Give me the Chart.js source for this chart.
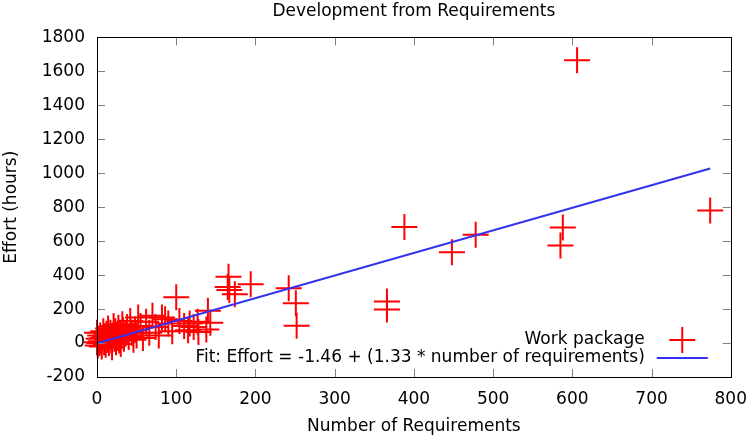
<!DOCTYPE html>
<html lang="en">
<head>
  <meta charset="UTF-8">
  <title>Development from Requirements</title>
  <style>
    body { margin: 0; padding: 0; background: #fff; }
    #wrap { width: 751px; height: 437px; }
    canvas { display: block; }
  </style>
  <script src="https://cdn.jsdelivr.net/npm/chart.js"></script>
</head>
<body>
  <div id="wrap"><canvas id="chartCanvas" width="751" height="437"></canvas></div>

  <script>
    // work packages: number of requirements vs effort (hours)
    const reqCount = [
      0, 0, 1, 2, 3, 4, 5, 6, 7, 8, 9, 10, 11, 12, 13, 14, 15, 16, 17, 18,
      19, 20, 21, 22, 23, 24, 25, 26, 27, 28, 29, 30, 31, 32, 33, 34, 36, 38, 40, 42,
      44, 46, 48, 50, 52, 55, 58, 62, 66, 70, 74, 78, 82, 86, 90, 95, 100, 104, 110, 115,
      117, 122, 127, 128, 138, 140, 143,
      166, 165, 167, 174, 194, 242, 251, 252, 366, 366, 388, 448, 478, 588, 585, 606, 774
    ];
    const effortHours = [
      5, 60, -15, 25, 0, 45, 10, -20, 30, 70, 5, 40, -10, 55, 20, 85, 0, 35, 60, 15,
      -25, 45, 100, 25, 70, 5, 50, 30, 90, 15, 60, -5, 40, 110, 75, 25, 55, 95, 35, 130,
      60, 20, 80, 45, 150, 100, 30, 125, 60, 160, 95, 45, 150, 140, 115, 70, 270, 130, 100, 75,
      115, 95, 125, 65, 80, 190, 120,
      390, 330, 313, 287, 346, 323, 234, 102, 244, 198, 684, 534, 638, 680, 575, 1665, 780
    ];
    // least-squares fit endpoints (from the legend: -1.46 + 1.33 * x)
    const fitX = [0, 774];
    const fitY = [-1.46, 1028];

    const xTicks = [0, 100, 200, 300, 400, 500, 600, 700, 800];
    const yTicks = [-200, 0, 200, 400, 600, 800, 1000, 1200, 1400, 1600, 1800];

    const FONT = "'DejaVu Sans', sans-serif";
    const FS = 17;
    const RED = '#ff0000';
    const BLUE = '#3232f0';

    // gnuplot-ish frame with inward ticks on all four sides
    const framePlugin = {
      id: 'frame',
      afterDraw(chart) {
        const { ctx, chartArea: a, scales } = chart;
        const len = 8;
        ctx.save();
        ctx.strokeStyle = '#808080';
        ctx.lineWidth = 1;
        ctx.beginPath();
        xTicks.forEach(v => {
          const px = Math.round(scales.x.getPixelForValue(v)) + 0.5;
          ctx.moveTo(px, a.bottom); ctx.lineTo(px, a.bottom - len);
          ctx.moveTo(px, a.top); ctx.lineTo(px, a.top + len);
        });
        yTicks.forEach(v => {
          const py = Math.round(scales.y.getPixelForValue(v)) + 0.5;
          ctx.moveTo(a.left, py); ctx.lineTo(a.left + len, py);
          ctx.moveTo(a.right, py); ctx.lineTo(a.right - len, py);
        });
        ctx.stroke();
        ctx.strokeStyle = '#000';
        ctx.strokeRect(Math.round(a.left) + 0.5, Math.round(a.top) + 0.5,
                       Math.round(a.right - a.left), Math.round(a.bottom - a.top));
        ctx.restore();
      }
    };

    // key drawn inside the plot, bottom right
    const keyPlugin = {
      id: 'key',
      afterDraw(chart) {
        const { ctx, chartArea: a } = chart;
        const textRight = a.right - 86;
        const sampleL = a.right - 74, sampleR = a.right - 23;
        const sampleC = (sampleL + sampleR) / 2;
        const row1 = a.bottom - 37, row2 = a.bottom - 19;
        ctx.save();
        ctx.font = FS + 'px ' + FONT;
        ctx.fillStyle = '#000';
        ctx.textAlign = 'right';
        ctx.textBaseline = 'middle';
        ctx.fillText('Work package', textRight, row1);
        ctx.fillText('Fit: Effort = -1.46 + (1.33 * number of requirements)', textRight, row2);
        ctx.strokeStyle = RED;
        ctx.lineWidth = 2;
        ctx.beginPath();
        ctx.moveTo(sampleC - 13, row1); ctx.lineTo(sampleC + 13, row1);
        ctx.moveTo(sampleC, row1 - 13); ctx.lineTo(sampleC, row1 + 13);
        ctx.stroke();
        ctx.strokeStyle = BLUE;
        ctx.lineWidth = 2;
        ctx.beginPath();
        ctx.moveTo(sampleL, row2); ctx.lineTo(sampleR, row2);
        ctx.stroke();
        ctx.restore();
      }
    };

    const ctx = document.getElementById('chartCanvas').getContext('2d');
    new Chart(ctx, {
      type: 'scatter',
      data: {
        datasets: [
          {
            label: 'Work package',
            data: reqCount.map((x, i) => ({ x, y: effortHours[i] })),
            pointStyle: 'cross',
            pointRadius: 13,
            pointHoverRadius: 13,
            borderColor: RED,
            backgroundColor: RED,
            borderWidth: 2,
            clip: false,
            order: 2
          },
          {
            label: 'Fit',
            type: 'line',
            data: fitX.map((x, i) => ({ x, y: fitY[i] })),
            borderColor: BLUE,
            borderWidth: 2,
            pointRadius: 0,
            fill: false,
            order: 1
          }
        ]
      },
      options: {
        responsive: false,
        animation: false,
        events: [],
        layout: { padding: { top: 0, right: 12, bottom: 0, left: 0 } },
        plugins: {
          legend: { display: false },
          tooltip: { enabled: false },
          title: {
            display: true,
            fullSize: false,
            text: 'Development from Requirements',
            color: '#000',
            font: { family: FONT, size: FS, weight: 'normal' },
            padding: { top: 1, bottom: 16 }
          }
        },
        scales: {
          x: {
            type: 'linear',
            min: 0, max: 800,
            afterBuildTicks: s => { s.ticks = xTicks.map(v => ({ value: v })); },
            afterFit: s => { s.height = 60; },
            grid: { display: false },
            border: { display: false },
            ticks: { color: '#000', padding: 4, font: { family: FONT, size: FS }, callback: v => String(v) },
            title: {
              display: true, text: 'Number of Requirements', color: '#000',
              font: { family: FONT, size: FS }, padding: { top: 4, bottom: 0 }
            }
          },
          y: {
            type: 'linear',
            min: -200, max: 1800,
            afterBuildTicks: s => { s.ticks = yTicks.map(v => ({ value: v })); },
            afterFit: s => { s.width = 97; },
            grid: { display: false },
            border: { display: false },
            ticks: { color: '#000', padding: 4, font: { family: FONT, size: FS }, callback: v => String(v) },
            title: {
              display: true, text: 'Effort (hours)', color: '#000',
              font: { family: FONT, size: FS }, padding: { top: 1, bottom: 0 }
            }
          }
        }
      },
      plugins: [framePlugin, keyPlugin]
    });
  </script>
</body>
</html>
